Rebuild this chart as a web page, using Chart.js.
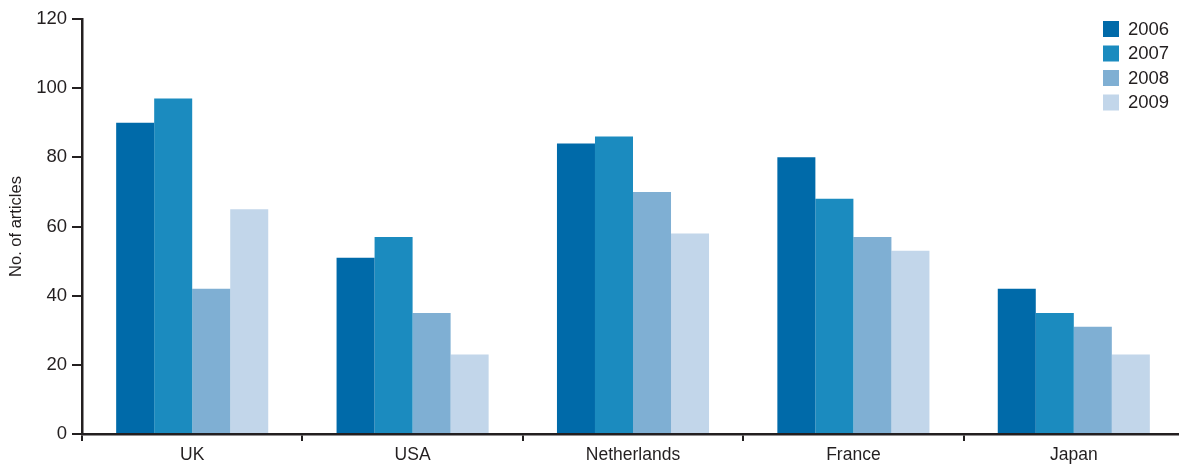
<!DOCTYPE html>
<html>
<head>
<meta charset="utf-8">
<script src="https://cdn.jsdelivr.net/npm/chart.js@4"></script>
<style>
  html, body { margin: 0; padding: 0; background: #fff; overflow: hidden; }
  #wrap { position: relative; width: 1184px; height: 466px; }
</style>
</head>
<body>
<div id="wrap"><canvas id="articles"></canvas></div>
<script>
const countries = ['UK', 'USA', 'Netherlands', 'France', 'Japan'];
const years = ['2006', '2007', '2008', '2009'];
const values2006 = [90, 51, 84, 80, 42];
const values2007 = [97, 57, 86, 68, 35];
const values2008 = [42, 35, 70, 57, 31];
const values2009 = [65, 23, 58, 53, 23];
const yTicks = [0, 20, 40, 60, 80, 100, 120];
const colours = ['#006aa9', '#1b8bbf', '#7fafd3', '#c2d6ea'];

const ink = '#231f20';
Chart.defaults.font.family = '"Liberation Sans", Arial, sans-serif';
Chart.defaults.color = ink;

// legend stacked in the top right corner, drawn over the plot
const cornerLegend = {
    id: 'cornerLegend',
    afterDraw(chart) {
        const c = chart.ctx;
        c.save();
        c.font = '18.5px "Liberation Sans", Arial, sans-serif';
        c.textBaseline = 'middle';
        chart.data.datasets.forEach((ds, i) => {
            const y = 21 + i * 24.5;
            c.fillStyle = ds.backgroundColor;
            c.fillRect(1103, y, 16, 16);
            c.fillStyle = ink;
            c.fillText(ds.label, 1128, y + 8.5);
        });
        c.restore();
    }
};

const series = [values2006, values2007, values2008, values2009];

const ctx = document.getElementById('articles').getContext('2d');
const chart = new Chart(ctx, {
    type: 'bar',
    data: {
        labels: countries,
        datasets: years.map((y, i) => ({
            label: y,
            data: series[i],
            backgroundColor: colours[i],
            borderWidth: 0,
            categoryPercentage: 0.69,
            barPercentage: 1
        }))
    },
    options: {
        responsive: true,
        maintainAspectRatio: false,
        animation: false,
        layout: { padding: { top: 19, left: 0, right: 0, bottom: 0 } },
        plugins: {
            legend: { display: false },
            tooltip: { enabled: false }
        },
        scales: {
            x: {
                afterFit(scale) { scale.height = 32; },
                grid: {
                    drawOnChartArea: false,
                    drawTicks: true,
                    tickLength: 7,
                    color: ink,
                    lineWidth: 2
                },
                border: { display: true, color: ink, width: 2.5 },
                ticks: { font: { size: 17.5 }, padding: 4, color: ink }
            },
            y: {
                min: 0,
                max: 120,
                afterFit(scale) { scale.width = 82; },
                afterBuildTicks(scale) { scale.ticks = yTicks.map(v => ({ value: v })); },
                title: {
                    display: true,
                    text: 'No. of articles',
                    font: { size: 16.5 },
                    color: ink,
                    padding: { top: 7, bottom: 0 }
                },
                grid: {
                    drawOnChartArea: false,
                    drawTicks: true,
                    tickLength: 10,
                    color: ink,
                    lineWidth: 2
                },
                border: { display: true, color: ink, width: 2.5 },
                ticks: { font: { size: 18.5 }, padding: 5, color: ink }
            }
        }
    },
    plugins: [cornerLegend]
});
</script>
</body>
</html>
